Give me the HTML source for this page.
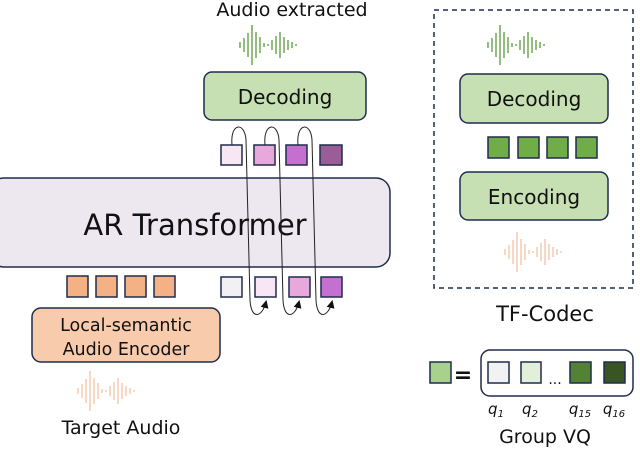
<!DOCTYPE html>
<html><head><meta charset="utf-8"><style>
body{margin:0;background:#fff}
text{font-family:"Comic Sans MS","DejaVu Sans","Liberation Sans",sans-serif;fill:#111}
</style></head><body>
<svg width="640" height="450" viewBox="0 0 640 450" xmlns="http://www.w3.org/2000/svg">
<defs>
<g id="wave">
<line x1="0" y1="-3" x2="0" y2="3"/><line x1="4" y1="-7" x2="4" y2="7"/><line x1="8" y1="-12" x2="8" y2="12"/>
<line x1="12" y1="-20" x2="12" y2="20"/><line x1="16" y1="-13" x2="16" y2="13"/><line x1="20" y1="-8" x2="20" y2="8"/>
<line x1="24" y1="-2" x2="24" y2="2"/><line x1="28" y1="-1" x2="28" y2="1"/><line x1="32" y1="-5" x2="32" y2="5"/>
<line x1="36" y1="-9" x2="36" y2="9"/><line x1="40" y1="-13" x2="40" y2="13"/><line x1="44" y1="-8" x2="44" y2="8"/>
<line x1="48" y1="-5" x2="48" y2="5"/><line x1="52" y1="-3" x2="52" y2="3"/><line x1="56" y1="-1" x2="56" y2="1"/>
</g>
<marker id="ah" markerWidth="8" markerHeight="8" refX="6" refY="4" orient="auto"><path d="M0,0 L8,4 L0,8 z" fill="#111"/></marker>
</defs>

<text x="292" y="16" font-size="19" text-anchor="middle">Audio extracted</text>
<g stroke="#5b9a3a" stroke-width="1.3"><use href="#wave" x="240" y="45"/></g>
<rect x="204" y="72" width="162" height="48" rx="8" fill="#c6e0b4" stroke="#1f2d4d" stroke-width="1.5"/>
<text x="285" y="104" font-size="20" text-anchor="middle">Decoding</text>

<rect x="221" y="145" width="21" height="20" fill="#f8e6f4" stroke="#1f2d4d" stroke-width="1.5"/>
<rect x="254" y="145" width="21" height="20" fill="#e9a8dc" stroke="#1f2d4d" stroke-width="1.5"/>
<rect x="286" y="145" width="21" height="20" fill="#c56fd0" stroke="#1f2d4d" stroke-width="1.5"/>
<rect x="320" y="145" width="22" height="20" fill="#9b5d98" stroke="#1f2d4d" stroke-width="1.5"/>

<rect x="-10" y="178" width="400" height="89" rx="14" fill="#ede7ef" stroke="#1f2d4d" stroke-width="1.5"/>
<text x="195" y="235" font-size="29" text-anchor="middle">AR Transformer</text>

<g stroke="#1f2d4d" stroke-width="1.5" fill="#f4b183">
<rect x="67" y="276" width="21" height="21"/><rect x="96" y="276" width="21" height="21"/>
<rect x="125" y="276" width="21" height="21"/><rect x="154" y="276" width="21" height="21"/>
</g>
<rect x="221" y="277" width="21" height="20" fill="#f3f0f3" stroke="#1f2d4d" stroke-width="1.5"/>
<rect x="255" y="277" width="21" height="20" fill="#f8e6f4" stroke="#1f2d4d" stroke-width="1.5"/>
<rect x="289" y="277" width="21" height="20" fill="#e9a8dc" stroke="#1f2d4d" stroke-width="1.5"/>
<rect x="321" y="277" width="21" height="20" fill="#c56fd0" stroke="#1f2d4d" stroke-width="1.5"/>

<g fill="none" stroke="#222" stroke-width="1">
<path d="M232 145 C230 122, 245 122, 246 140 L250 300 C251 320, 262 318, 266 302" marker-end="url(#ah)"/>
<path d="M265 145 C263 122, 278 122, 279 140 L283 300 C284 320, 295 318, 299 302" marker-end="url(#ah)"/>
<path d="M298 145 C296 122, 311 122, 312 140 L316 300 C317 320, 328 318, 332 302" marker-end="url(#ah)"/>
</g>

<rect x="32" y="308" width="188" height="54" rx="9" fill="#f8cbad" stroke="#1f2d4d" stroke-width="1.5"/>
<text x="126" y="331" font-size="17.5" text-anchor="middle">Local-semantic</text>
<text x="126" y="355" font-size="17.5" text-anchor="middle">Audio Encoder</text>
<g stroke="#f4c4a4" stroke-width="1.3"><use href="#wave" x="78" y="391"/></g>
<text x="121" y="434" font-size="19" text-anchor="middle">Target Audio</text>

<rect x="434" y="10" width="199" height="278" fill="none" stroke="#1f2d4d" stroke-width="1.5" stroke-dasharray="5,4"/>
<g stroke="#5b9a3a" stroke-width="1.3"><use href="#wave" x="488" y="45"/></g>
<rect x="460" y="74" width="148" height="49" rx="8" fill="#c6e0b4" stroke="#1f2d4d" stroke-width="1.5"/>
<text x="534" y="106" font-size="20" text-anchor="middle">Decoding</text>
<g stroke="#1f2d4d" stroke-width="1.5" fill="#70ad47">
<rect x="488" y="137" width="21" height="21"/><rect x="518" y="137" width="21" height="21"/>
<rect x="547" y="137" width="21" height="21"/><rect x="576" y="137" width="21" height="21"/>
</g>
<rect x="460" y="172" width="148" height="48" rx="8" fill="#c6e0b4" stroke="#1f2d4d" stroke-width="1.5"/>
<text x="534" y="204" font-size="20" text-anchor="middle">Encoding</text>
<g stroke="#f4c4a4" stroke-width="1.3"><use href="#wave" x="505" y="252"/></g>
<text x="545" y="321" font-size="21" text-anchor="middle">TF-Codec</text>

<rect x="430" y="362" width="21" height="21" fill="#a9d18e" stroke="#1f2d4d" stroke-width="1.5"/>
<text x="463" y="382" font-size="22" text-anchor="middle" font-weight="bold">=</text>
<rect x="481" y="350" width="152" height="46" rx="9" fill="none" stroke="#1f2d4d" stroke-width="1.5"/>
<rect x="488" y="362" width="21" height="21" fill="#f2f2f2" stroke="#1f2d4d" stroke-width="1.5"/>
<rect x="521" y="362" width="20" height="21" fill="#e2f0d9" stroke="#1f2d4d" stroke-width="1.5"/>
<text x="555" y="384" font-size="14" text-anchor="middle">...</text>
<rect x="570" y="362" width="21" height="21" fill="#548235" stroke="#1f2d4d" stroke-width="1.5"/>
<rect x="604" y="362" width="21" height="21" fill="#375623" stroke="#1f2d4d" stroke-width="1.5"/>
<g font-size="15" font-style="italic">
<text x="496" y="414" text-anchor="middle">q<tspan font-size="10" dy="3">1</tspan></text>
<text x="530" y="414" text-anchor="middle">q<tspan font-size="10" dy="3">2</tspan></text>
<text x="580" y="414" text-anchor="middle">q<tspan font-size="10" dy="3">15</tspan></text>
<text x="614" y="414" text-anchor="middle">q<tspan font-size="10" dy="3">16</tspan></text>
</g>
<text x="545" y="443" font-size="19" text-anchor="middle">Group VQ</text>
</svg>
</body></html>
